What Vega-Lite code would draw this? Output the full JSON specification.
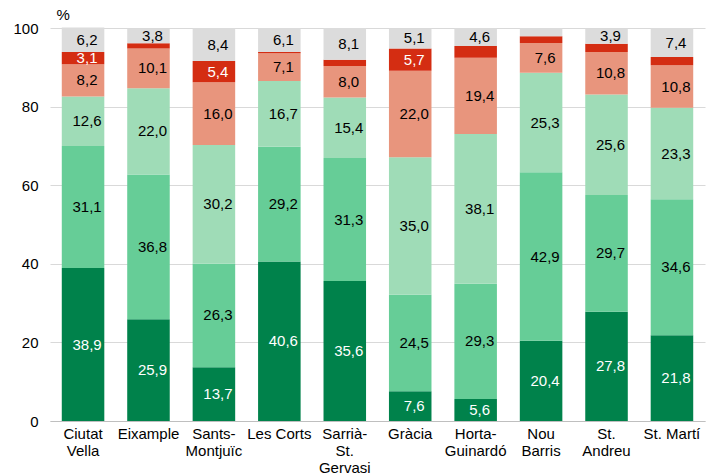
{
  "$schema": "https://vega.github.io/schema/vega-lite/v6.json",
  "width": 655,
  "height": 393,
  "autosize": {"type": "none"},
  "padding": {"left": 50, "top": 28, "right": 1, "bottom": 54},
  "background": "white",
  "config": {
    "view": {"stroke": null},
    "font": "Liberation Sans",
    "locale": {"number": {"decimal": ",", "thousands": ".", "grouping": [3], "currency": ["", " €"]}}
  },
  "data": {
    "values": [
      {"d": "Ciutat|Vella", "k": 1, "v": 38.9}, {"d": "Ciutat|Vella", "k": 2, "v": 31.1}, {"d": "Ciutat|Vella", "k": 3, "v": 12.6}, {"d": "Ciutat|Vella", "k": 4, "v": 8.2}, {"d": "Ciutat|Vella", "k": 5, "v": 3.1}, {"d": "Ciutat|Vella", "k": 6, "v": 6.2},
      {"d": "Eixample", "k": 1, "v": 25.9}, {"d": "Eixample", "k": 2, "v": 36.8}, {"d": "Eixample", "k": 3, "v": 22.0}, {"d": "Eixample", "k": 4, "v": 10.1}, {"d": "Eixample", "k": 5, "v": 1.3}, {"d": "Eixample", "k": 6, "v": 3.8},
      {"d": "Sants-|Montjuïc", "k": 1, "v": 13.7}, {"d": "Sants-|Montjuïc", "k": 2, "v": 26.3}, {"d": "Sants-|Montjuïc", "k": 3, "v": 30.2}, {"d": "Sants-|Montjuïc", "k": 4, "v": 16.0}, {"d": "Sants-|Montjuïc", "k": 5, "v": 5.4}, {"d": "Sants-|Montjuïc", "k": 6, "v": 8.4},
      {"d": "Les Corts", "k": 1, "v": 40.6}, {"d": "Les Corts", "k": 2, "v": 29.2}, {"d": "Les Corts", "k": 3, "v": 16.7}, {"d": "Les Corts", "k": 4, "v": 7.1}, {"d": "Les Corts", "k": 5, "v": 0.3}, {"d": "Les Corts", "k": 6, "v": 6.1},
      {"d": "Sarrià-|St.|Gervasi", "k": 1, "v": 35.6}, {"d": "Sarrià-|St.|Gervasi", "k": 2, "v": 31.3}, {"d": "Sarrià-|St.|Gervasi", "k": 3, "v": 15.4}, {"d": "Sarrià-|St.|Gervasi", "k": 4, "v": 8.0}, {"d": "Sarrià-|St.|Gervasi", "k": 5, "v": 1.6}, {"d": "Sarrià-|St.|Gervasi", "k": 6, "v": 8.1},
      {"d": "Gràcia", "k": 1, "v": 7.6}, {"d": "Gràcia", "k": 2, "v": 24.5}, {"d": "Gràcia", "k": 3, "v": 35.0}, {"d": "Gràcia", "k": 4, "v": 22.0}, {"d": "Gràcia", "k": 5, "v": 5.7}, {"d": "Gràcia", "k": 6, "v": 5.1},
      {"d": "Horta-|Guinardó", "k": 1, "v": 5.6}, {"d": "Horta-|Guinardó", "k": 2, "v": 29.3}, {"d": "Horta-|Guinardó", "k": 3, "v": 38.1}, {"d": "Horta-|Guinardó", "k": 4, "v": 19.4}, {"d": "Horta-|Guinardó", "k": 5, "v": 3.0}, {"d": "Horta-|Guinardó", "k": 6, "v": 4.6},
      {"d": "Nou|Barris", "k": 1, "v": 20.4}, {"d": "Nou|Barris", "k": 2, "v": 42.9}, {"d": "Nou|Barris", "k": 3, "v": 25.3}, {"d": "Nou|Barris", "k": 4, "v": 7.6}, {"d": "Nou|Barris", "k": 5, "v": 1.7}, {"d": "Nou|Barris", "k": 6, "v": 2.1},
      {"d": "St.|Andreu", "k": 1, "v": 27.8}, {"d": "St.|Andreu", "k": 2, "v": 29.7}, {"d": "St.|Andreu", "k": 3, "v": 25.6}, {"d": "St.|Andreu", "k": 4, "v": 10.8}, {"d": "St.|Andreu", "k": 5, "v": 2.1}, {"d": "St.|Andreu", "k": 6, "v": 3.9},
      {"d": "St. Martí", "k": 1, "v": 21.8}, {"d": "St. Martí", "k": 2, "v": 34.6}, {"d": "St. Martí", "k": 3, "v": 23.3}, {"d": "St. Martí", "k": 4, "v": 10.8}, {"d": "St. Martí", "k": 5, "v": 2.1}, {"d": "St. Martí", "k": 6, "v": 7.4}
    ]
  },
  "transform": [
    {"stack": "v", "groupby": ["d"], "sort": [{"field": "k", "order": "ascending"}], "as": ["y0", "y1"]},
    {"calculate": "(datum.y0 + datum.y1) / 2", "as": "ym"}
  ],
  "encoding": {
    "x": {
      "field": "d", "type": "nominal", "sort": null, "title": null,
      "scale": {"paddingInner": 0.35, "paddingOuter": 0.18},
      "axis": {
        "labelAngle": 0, "labelExpr": "split(datum.label, '|')", "labelFontSize": 15, "labelColor": "#000",
        "labelLineHeight": 17, "labelPadding": 5, "labelBaseline": "top",
        "ticks": false, "domainColor": "#bfbfbf", "domainWidth": 1, "grid": false
      }
    }
  },
  "layer": [
    {
      "mark": {"type": "bar"},
      "encoding": {
        "y": {
          "field": "y0", "type": "quantitative",
          "scale": {"domain": [0, 100]},
          "axis": {
            "values": [0, 20, 40, 60, 80, 100], "domain": false, "ticks": false,
            "labelFontSize": 15, "labelColor": "#000", "labelPadding": 12,
            "gridColor": "#d9d9d9", "gridWidth": 1,
            "title": "%", "titleAngle": 0, "titleAlign": "left", "titleBaseline": "alphabetic",
            "titleX": 6, "titleY": -9, "titleFontSize": 15, "titleFontWeight": "normal", "titleColor": "#000"
          }
        },
        "y2": {"field": "y1"},
        "color": {
          "field": "k", "type": "ordinal", "legend": null,
          "scale": {"domain": [1, 2, 3, 4, 5, 6], "range": ["#00824b", "#66cd97", "#9fdcb7", "#e8957d", "#d42d12", "#dcdcdc"]}
        }
      }
    },
    {
      "transform": [{"filter": "datum.v >= 3.1"}],
      "mark": {"type": "text", "fontSize": 15, "dx": 4, "baseline": "middle", "align": "center"},
      "encoding": {
        "y": {"field": "ym", "type": "quantitative"},
        "text": {"field": "v", "type": "quantitative", "format": ".1f"},
        "color": {"condition": {"test": "datum.k == 1 || datum.k == 5", "value": "white"}, "value": "black"}
      }
    }
  ]
}
